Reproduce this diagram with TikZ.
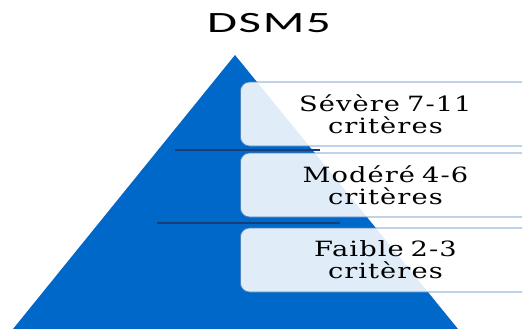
\documentclass[tikz,border=0pt]{standalone}
\usepackage{fontspec}
\setmainfont{DejaVu Serif}[FakeStretch=1.3,LetterSpace=5]
\newfontfamily\titlefont{Carlito}[FakeStretch=1.65,LetterSpace=6]
\usepackage{tikz}
\usetikzlibrary{positioning}
\definecolor{pyrblue}{RGB}{0,104,201}
\definecolor{sepblue}{RGB}{22,62,120}
\definecolor{boxline}{RGB}{79,129,189}
\tikzstyle{level} = [rectangle, draw=boxline, line width=0.8pt, fill=white, fill opacity=0.88,
    text opacity=1, rounded corners=9pt, minimum width=290pt, minimum height=64pt,
    text width=280pt, align=center, font=\fontsize{21}{22}\selectfont, anchor=west]
\tikzstyle{sep} = [draw=sepblue, line width=1.6pt]

\begin{document}
\begin{tikzpicture}[x=1pt,y=-1pt]
    \useasboundingbox (0,0) rectangle (522,329);
    % Pyramid
    \fill[pyrblue] (235,55) -- (458,329) -- (13,329) -- cycle;
    \draw[sep] (175,150) -- (320,150);
    \draw[sep] (157,223) -- (340,223);
    % Place nodes
    \node[font=\titlefont\fontsize{29.5}{30}\selectfont] (title) at (269,23) {DSM5};
    \node[level] (severe) at (240,114) {Sévère 7-11\\critères};
    \node[level] (modere) at (240,185) {Modéré 4-6\\critères};
    \node[level] (faible) at (240,260) {Faible 2-3\\critères};
\end{tikzpicture}
\end{document}
